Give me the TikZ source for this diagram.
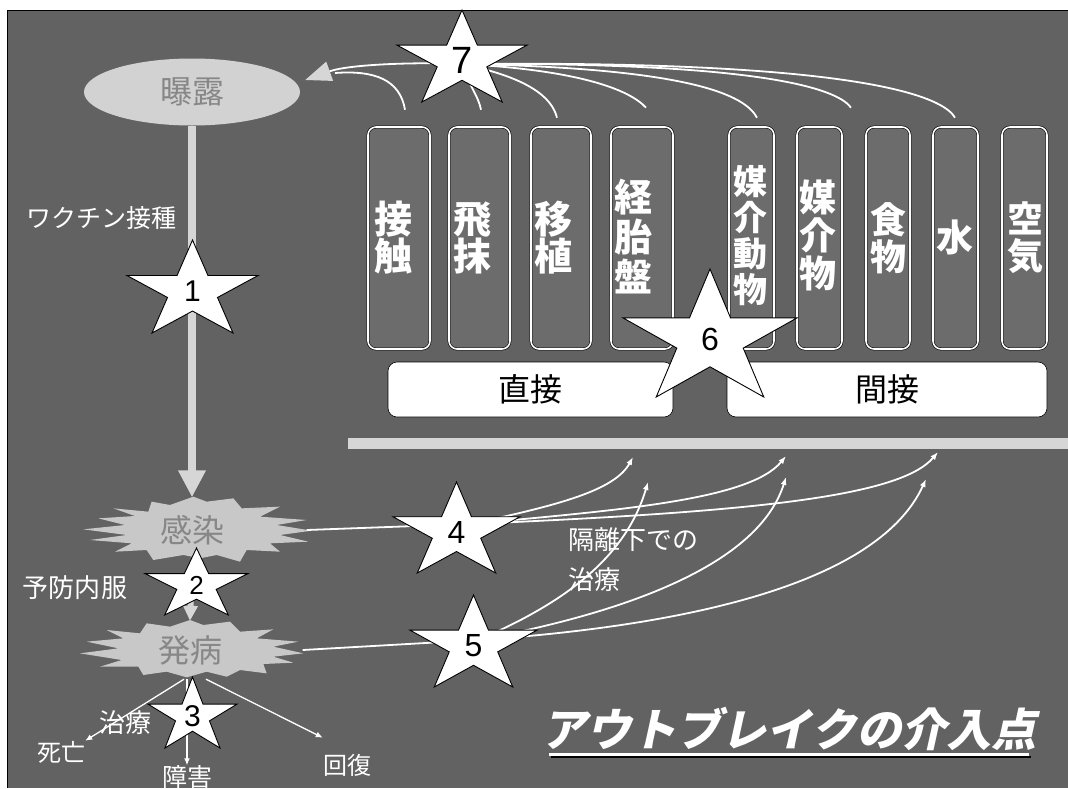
\documentclass[tikz,border=0pt]{standalone}
\usepackage{fontspec}
\setmainfont{Liberation Sans}
\newfontfamily\jp{Noto Sans CJK JP}
\newfontfamily\jpslant[FakeSlant=0.22]{Noto Sans CJK JP}
\usetikzlibrary{shapes.geometric,arrows.meta,calc}
\definecolor{bgc}{RGB}{98,98,98}
\definecolor{colfill}{RGB}{108,108,108}
\definecolor{lg}{RGB}{214,214,214}
\definecolor{ellc}{RGB}{210,210,210}
\definecolor{burstc}{RGB}{200,200,200}
\definecolor{embc}{RGB}{135,135,135}
\newcommand\fsz[1]{\fontsize{#1}{#1}\selectfont}
\newcommand\mystar[7]{%
  \pgfmathsetmacro\myXs{#4/1.902}%
  \pgfmathsetmacro\myYs{#5/1.809}%
  \pgfmathsetmacro\myYc{#3+#5/1.809}%
  \draw[starsty] ({#2},{\myYc-\myYs}) -- ({#2+0.2245*\myXs},{\myYc-0.309*\myYs}) -- ({#2+0.951*\myXs},{\myYc-0.309*\myYs}) -- ({#2+0.363*\myXs},{\myYc+0.118*\myYs}) -- ({#2+0.588*\myXs},{\myYc+0.809*\myYs}) -- ({#2},{\myYc+0.382*\myYs}) -- ({#2-0.588*\myXs},{\myYc+0.809*\myYs}) -- ({#2-0.363*\myXs},{\myYc+0.118*\myYs}) -- ({#2-0.951*\myXs},{\myYc-0.309*\myYs}) -- ({#2-0.2245*\myXs},{\myYc-0.309*\myYs}) -- cycle;%
  \node[starnum,font=\fsz{#6}] (#1) at ({#2},{\myYc}) {#7};%
}
\begin{document}
\begin{tikzpicture}[x=1pt,y=-1pt,
 lbl/.style={text=white,inner sep=0pt,font={\jp\fsz{#1}}},
 colsty/.style={draw=black,double=white,double distance=1.6pt,line width=0.6pt,rounded corners=8pt,fill=colfill,minimum height=222pt,inner sep=0pt},
 coltext/.style 2 args={text=white,inner sep=0pt,align=center,font={\jp\bfseries\fontsize{#1}{#2}\selectfont}},
 boxsty/.style={draw=black,line width=0.6pt,fill=white,rounded corners=9pt,minimum height=55pt,inner sep=0pt,text=black,font={\jp\fsz{32}}},
 starsty/.style={draw=black,line width=0.9pt,fill=white,line join=miter},
 starnum/.style={inner sep=0pt,text=black},
 bigarrow/.style={draw=lg,line width=8pt,-{Triangle[width=26pt,length=27pt,color=lg,fill=lg]}},
 midarrow/.style={draw=lg,line width=6pt,-{Triangle[width=14pt,length=15pt,color=lg,fill=lg]}},
 wline/.style={draw=white,line width=1.8pt},
 warrow/.style={wline,-{Latex[length=8pt,width=6pt]}},
 outarrow/.style={draw=white,line width=1.3pt,-{Latex[length=7pt,width=6pt]}},
 burstnode/.style={minimum width=#1,inner sep=0pt,text=embc,font={\jp\fsz{32}}}
]
\useasboundingbox (0,0) rectangle (1068,788);
\fill[white] (0,0) rectangle (1068,788);
\fill[bgc] (7,10) rectangle (1068,788);
\draw[black,line width=1pt] (7.5,788) -- (7.5,10.5) -- (1068,10.5);

% bar and boxes
\node[fill=lg,minimum width=720pt,minimum height=11pt,inner sep=0pt] (bar) at (708,443.5) {};
\node[boxsty,minimum width=285pt] (direct) at (530.5,389.5) {直接};
\node[boxsty,minimum width=320pt] (indirect) at (887,389.5) {間接};

% columns
\node[colsty,minimum width=62pt] (c1) at (399,238) {};
\node[colsty,minimum width=61pt] (c2) at (479.5,238) {};
\node[colsty,minimum width=60pt] (c3) at (561,238) {};
\node[colsty,minimum width=62pt] (c4) at (642,238) {};
\node[colsty,minimum width=45pt] (c5) at (751.5,238) {};
\node[colsty,minimum width=45pt] (c6) at (819.5,238) {};
\node[colsty,minimum width=44pt] (c7) at (888,238) {};
\node[colsty,minimum width=45pt] (c8) at (955.5,238) {};
\node[colsty,minimum width=45pt] (c9) at (1024.5,238) {};
\node[coltext={38}{37}] (t1) at (393,238) {接\\触};
\node[coltext={38}{37}] (t2) at (472,238) {飛\\抹};
\node[coltext={38}{37}] (t3) at (553,238) {移\\植};
\node[coltext={38}{40}] (t4) at (633,237) {経\\胎\\盤};
\node[coltext={34}{36}] (t5) at (750,236) {媒\\介\\動\\物};
\node[coltext={37}{38}] (t6) at (818,235) {媒\\介\\物};
\node[coltext={36}{37}] (t7) at (888,238) {食\\物};
\node[coltext={37}{37}] (t8) at (955,237) {水};
\node[coltext={36}{37}] (t9) at (1025,238) {空\\気};

% exposure ellipse
\node[ellipse,fill=ellc,minimum width=216pt,minimum height=67pt,inner sep=0pt,text=embc,font={\jp\fsz{32}}] (bakuro) at (192,92) {曝露};

% bursts
\begin{scope}[shift={(60,440)},scale=1/3]
\fill[burstc] (160,205) -- (265,215) -- (275,185) -- (330,195) -- (400,170) -- (440,185) -- (520,175) -- (545,205) -- (660,200) -- (600,230) -- (740,240) -- (650,255) -- (755,272) -- (660,285) -- (745,305) -- (630,310) -- (660,335) -- (560,330) -- (540,365) -- (470,345) -- (420,355) -- (370,345) -- (280,360) -- (260,330) -- (165,335) -- (215,310) -- (90,300) -- (200,285) -- (70,268) -- (195,255) -- (115,235) -- (225,228) -- cycle;
\fill[burstc] (140,570) -- (240,580) -- (260,550) -- (330,560) -- (390,540) -- (430,555) -- (510,545) -- (540,575) -- (640,568) -- (590,595) -- (715,605) -- (640,620) -- (730,640) -- (640,650) -- (700,668) -- (610,672) -- (620,700) -- (540,690) -- (500,710) -- (440,695) -- (380,712) -- (320,695) -- (250,705) -- (235,680) -- (120,680) -- (185,660) -- (60,640) -- (175,625) -- (80,605) -- (190,595) -- cycle;
\end{scope}
\node[burstnode=229pt,minimum height=65pt] (kansen) at (192,530) {感染};
\node[burstnode=225pt,minimum height=58pt] (hatsubyo) at (190,650) {発病};

% labels
\node[lbl=25] (vacc) at (102,218) {ワクチン接種};
\node[lbl=26] (yobou) at (75,588) {予防内服};
\node[lbl=26] (chiryou) at (125,723) {治療};
\node[lbl=24] (shibou) at (61,752) {死亡};
\node[lbl=25] (shougai) at (187,777) {障害};
\node[lbl=24] (kaifuku) at (347,765) {回復};
\node[text=white,inner sep=0pt,align=left,anchor=west,font={\jp\fontsize{26}{40}\selectfont}] (kakuri) at (568,560) {隔離下での\\治療};

% title
\node[text=white,inner sep=0pt,font={\jpslant\bfseries\fsz{45}}] (title) at (789,729) {アウトブレイクの介入点};
\draw[black,line width=1.5pt] (551,757) -- (1031,757);
\draw[white,line width=3pt] (549,754) -- (1029,754);

% hubs and tips
\coordinate (hub7) at (462,64);
\coordinate (hub4) at (470,524);
\coordinate (hub5) at (478,640);
\coordinate (b4a) at (633,457);
\coordinate (b4b) at (786,456);
\coordinate (b4c) at (938,452);
\coordinate (b5a) at (648,482);
\coordinate (b5b) at (786,477);
\coordinate (b5c) at (926,479);

% main flow
\draw[bigarrow] (bakuro.south) -- (kansen.north);
\draw[midarrow] (kansen.south) -- (hatsubyo.north);

% curves to exposure (7)
\draw[wline,-{Triangle[width=20pt,length=26pt,color=lg,fill=lg]}] (hub7) .. controls (420,62) and (350,64) .. ($(bakuro.east)+(5,-12)$);
\draw[wline] ($(c1.north)+(6,-17)$) .. controls (400,80) and (375,70) .. (335,73);
\draw[wline] ($(c2.north)+(1.5,-17)$) .. controls (478,95) and (470,88) .. (hub7);
\draw[wline] ($(c3.north)+(-4,-9)$) .. controls (552,98) and (530,78) .. (hub7);
\draw[wline] ($(c4.north)+(4,-19)$) .. controls (630,90) and (580,70) .. (hub7);
\draw[wline] ($(c5.north)+(5.5,-9)$) .. controls (745,95) and (690,68) .. (hub7);
\draw[wline] ($(c6.north)+(31.5,-19)$) .. controls (840,92) and (780,62) .. (hub7);
\draw[wline] ($(c8.north)+(-0.5,-9)$) .. controls (945,100) and (880,60) .. (hub7);

% isolation curves (4, 5)
\draw[wline] (kansen.east) -- (hub4);
\draw[warrow] (hub4) .. controls (560,505) and (615,490) .. (b4a);
\draw[warrow] (hub4) .. controls (620,510) and (750,500) .. (b4b);
\draw[warrow] (hub4) .. controls (750,512) and (900,497) .. (b4c);
\draw[wline] (hatsubyo.east) -- (hub5);
\draw[warrow] (hub5) .. controls (560,605) and (625,560) .. (b5a);
\draw[warrow] (hub5) .. controls (640,610) and (760,560) .. (b5b);
\draw[warrow] (hub5) .. controls (700,625) and (880,580) .. (b5c);

% outcomes
\draw[outarrow] ([xshift=-6pt]hatsubyo.south) -- (shibou.north east);
\draw[outarrow] ([xshift=16pt]hatsubyo.south) -- ($(kaifuku.north west)+(0,-16)$);
\draw[outarrow] ([xshift=-3pt]hatsubyo.south) -- (shougai.north);

% stars
\mystar{s7}{462}{10}{130}{92}{38}{7}
\mystar{s1}{192.5}{240}{131}{93}{30}{1}
\mystar{s6}{710}{269}{174}{128}{32}{6}
\mystar{s4}{456.5}{482}{127}{91}{32}{4}
\mystar{s5}{473.5}{595}{127}{92}{32}{5}
\mystar{s2}{196.5}{548}{103}{67}{26}{2}
\mystar{s3}{192.5}{677}{89}{71}{30}{3}
\end{tikzpicture}
\end{document}
